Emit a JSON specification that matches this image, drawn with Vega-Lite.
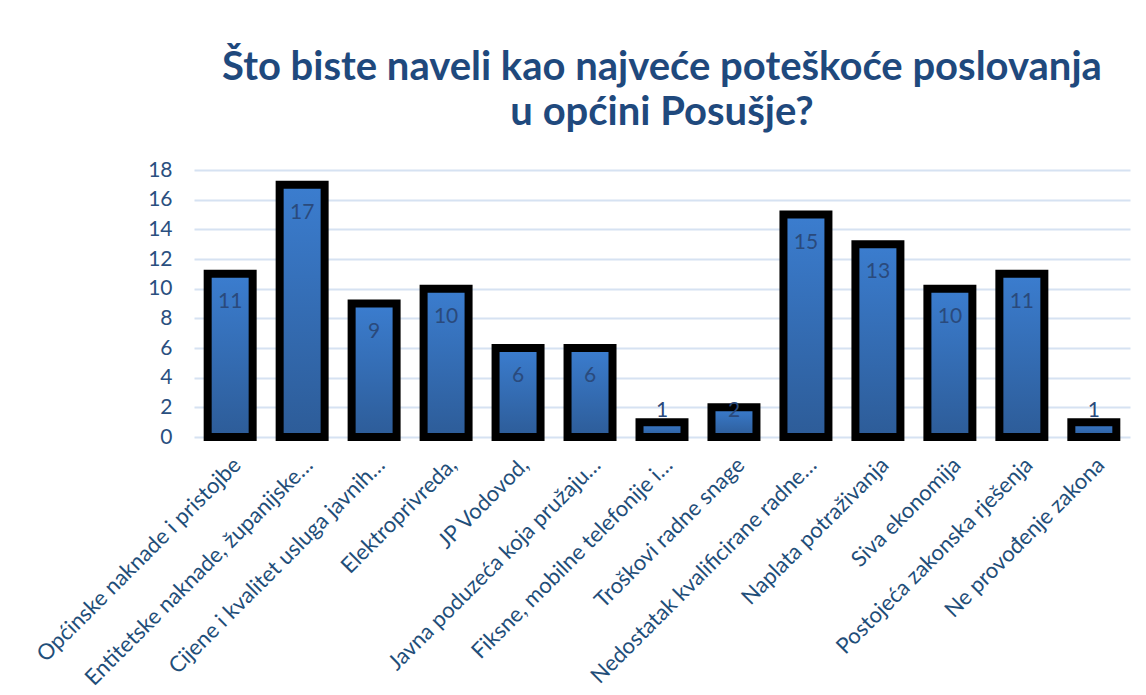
{
  "$schema": "https://vega.github.io/schema/vega-lite/v6.json",
  "width": 936,
  "height": 267,
  "autosize": {"type": "none"},
  "padding": {"left": 194, "top": 170, "right": 16, "bottom": 258},
  "background": "white",
  "config": {
    "font": "Lato",
    "view": {"stroke": null},
    "axis": {"labelFont": "Lato", "titleFont": "Lato"}
  },
  "title": {
    "text": ["Što biste naveli kao najveće poteškoće poslovanja", "u općini Posušje?"],
    "font": "Lato",
    "fontSize": 40,
    "fontWeight": "bold",
    "color": "#1F497D",
    "anchor": "middle",
    "lineHeight": 45,
    "offset": 34,
    "dy": 8
  },
  "data": {
    "values": [
      {"kategorija": "Općinske naknade i pristojbe", "broj": 11},
      {"kategorija": "Entitetske naknade, županijske…", "broj": 17},
      {"kategorija": "Cijene i kvalitet usluga javnih…", "broj": 9},
      {"kategorija": "Elektroprivreda,", "broj": 10},
      {"kategorija": "JP Vodovod,", "broj": 6},
      {"kategorija": "Javna poduzeća koja pružaju…", "broj": 6},
      {"kategorija": "Fiksne, mobilne telefonije i…", "broj": 1},
      {"kategorija": "Troškovi radne snage", "broj": 2},
      {"kategorija": "Nedostatak kvalificirane radne…", "broj": 15},
      {"kategorija": "Naplata potraživanja", "broj": 13},
      {"kategorija": "Siva ekonomija", "broj": 10},
      {"kategorija": "Postojeća zakonska rješenja", "broj": 11},
      {"kategorija": "Ne provođenje zakona", "broj": 1}
    ]
  },
  "encoding": {
    "x": {
      "field": "kategorija",
      "type": "nominal",
      "sort": null,
      "scale": {"paddingInner": 0.375, "paddingOuter": 0.19},
      "axis": {
        "title": null,
        "labelAngle": -45,
        "labelFontSize": 22,
        "labelColor": "#1F4E79",
        "labelLimit": 500,
        "labelOverlap": false,
        "ticks": false,
        "domain": false,
        "labelPadding": 17
      }
    },
    "y": {
      "field": "broj",
      "type": "quantitative",
      "scale": {"domain": [0, 18], "nice": false},
      "axis": {
        "title": null,
        "values": [0, 2, 4, 6, 8, 10, 12, 14, 16, 18],
        "labelOverlap": false,
        "grid": true,
        "gridColor": "#D6E2F2",
        "gridWidth": 2,
        "domain": false,
        "ticks": false,
        "labelFontSize": 21,
        "labelColor": "#2A4F80",
        "labelPadding": 22
      }
    }
  },
  "layer": [
    {
      "mark": {
        "type": "bar",
        "stroke": "black",
        "strokeWidth": 8,
        "fill": {
          "gradient": "linear",
          "x1": 0, "y1": 0, "x2": 0, "y2": 1,
          "stops": [
            {"offset": 0, "color": "#3B7DCF"},
            {"offset": 1, "color": "#2D5C98"}
          ]
        }
      }
    },
    {
      "transform": [{"filter": "datum.broj >= 3"}],
      "mark": {"type": "text", "baseline": "middle", "dy": 28, "fontSize": 21, "color": "#2A4A7C"},
      "encoding": {
        "text": {"field": "broj", "type": "quantitative"}
      }
    },
    {
      "transform": [{"filter": "datum.broj < 3"}],
      "mark": {"type": "text", "baseline": "middle", "fontSize": 21, "color": "#2A4A7C"},
      "encoding": {
        "y": {"datum": 1.75, "type": "quantitative"},
        "text": {"field": "broj", "type": "quantitative"}
      }
    }
  ]
}
